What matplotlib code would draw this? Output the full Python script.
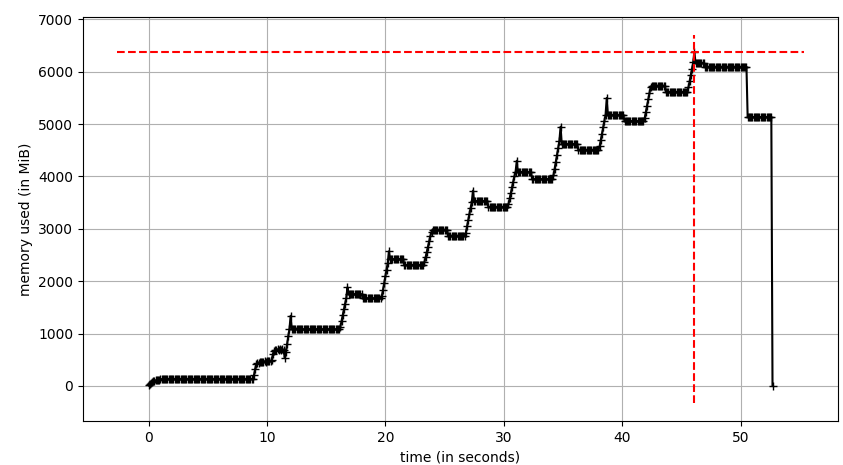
import numpy as np
import matplotlib
matplotlib.use("Agg")
import matplotlib.pyplot as plt

# sampling interval of the memory profiler (seconds)
sample_interval = 0.1

# memory samples (MiB), one per sample interval
mem_used = [
    # start-up
    10, 40, 65, 85, 95, 100, 105, 110, 115, 120, 125, 128, 130,
    # idle plateau
    135, 135, 135, 135, 135, 135, 135, 135, 135, 135, 135, 135, 135, 135, 135, 135, 135, 135, 135,
    135, 135, 135, 135, 135, 135, 135, 135, 135, 135, 135, 135, 135, 135, 135, 135, 135, 135, 135,
    135, 135, 135, 135, 135, 135, 135, 135, 135, 135, 135, 135, 135, 135, 135, 135, 135, 135, 135,
    135, 135, 135, 135, 135, 135, 135, 135, 135, 135, 135, 135, 135, 135, 135, 135, 135, 135, 135,
    200, 320, 420,
    440, 445, 450, 455, 460, 450, 470, 465, 480, 470, 485, 475, 490,
    610, 670, 690, 680, 700, 690, 710, 680, 700, 690,
    540,
    650, 800, 950, 1080,
    1340,
    1095, 1095, 1095, 1095, 1095, 1095, 1095, 1095,
    1080, 1080, 1080, 1080, 1080, 1080, 1080, 1080, 1080, 1080, 1080,
    1080, 1080, 1080, 1080, 1080, 1080, 1080, 1080, 1080, 1080, 1080,
    1080, 1080, 1080, 1080, 1080, 1080, 1080, 1080, 1080, 1080, 1080,
    1130, 1240, 1350, 1460, 1570, 1680,
    1880,
    1750, 1750, 1750, 1750, 1750, 1750, 1750, 1750, 1750, 1750, 1750, 1750,
    1670, 1670, 1670, 1670, 1670, 1670, 1670, 1670, 1670, 1670, 1670, 1670, 1670, 1670, 1670, 1670,
    1710, 1830, 1960, 2090, 2220, 2350,
    2570,
    2420, 2420, 2420, 2420, 2420, 2420, 2420, 2420, 2420, 2420, 2420, 2420,
    2310, 2310, 2310, 2310, 2310, 2310, 2310, 2310, 2310, 2310, 2310, 2310, 2310, 2310, 2310, 2310, 2310,
    2360, 2460, 2560, 2660, 2760, 2860, 2940,
    2985, 2985, 2985, 2985, 2985, 2985, 2985, 2985, 2985, 2985, 2985, 2985, 2985,
    2870, 2870, 2870, 2870, 2870, 2870, 2870, 2870, 2870, 2870, 2870, 2870, 2870, 2870, 2870,
    2930, 3050, 3170, 3290, 3400, 3510,
    3730,
    3530, 3530, 3530, 3530, 3530, 3530, 3530, 3530, 3530, 3530, 3530, 3530,
    3420, 3420, 3420, 3420, 3420, 3420, 3420, 3420, 3420, 3420, 3420, 3420, 3420, 3420, 3420, 3420, 3420,
    3470, 3580, 3690, 3800, 3900, 4000, 4090,
    4300,
    4085, 4085, 4085, 4085, 4085, 4085, 4085, 4085, 4085, 4085, 4085, 4085,
    3950, 3950, 3950, 3950, 3950, 3950, 3950, 3950, 3950, 3950, 3950, 3950, 3950, 3950, 3950, 3950, 3950, 3950,
    4020, 4150, 4280, 4410, 4540, 4680,
    4950,
    4620, 4620, 4620, 4620, 4620, 4620, 4620, 4620, 4620, 4620, 4620, 4620, 4620, 4620,
    4510, 4510, 4510, 4510, 4510, 4510, 4510, 4510, 4510, 4510, 4510, 4510, 4510, 4510, 4510, 4510, 4510, 4510,
    4580, 4700, 4820, 4940, 5060, 5180,
    5500,
    5175, 5175, 5175, 5175, 5175, 5175, 5175, 5175, 5175, 5175, 5175, 5175, 5175, 5175,
    5055, 5055, 5055, 5055, 5055, 5055, 5055, 5055, 5055, 5055, 5055, 5055, 5055, 5055, 5055, 5055, 5055,
    5110, 5230, 5350, 5470, 5590, 5700,
    5735, 5735, 5735, 5735, 5735, 5735, 5735, 5735, 5735, 5735, 5735, 5735,
    5615, 5615, 5615, 5615, 5615, 5615, 5615, 5615, 5615, 5615, 5615, 5615, 5615, 5615, 5615, 5615, 5615, 5615, 5615,
    5700, 5820, 5940, 6060, 6180,
    6375,
    6170, 6170, 6170, 6170, 6170, 6170, 6170, 6170,
    6095, 6095, 6095, 6095, 6095, 6095, 6095, 6095, 6095, 6095, 6095, 6095,
    6095, 6095, 6095, 6095, 6095, 6095, 6095, 6095, 6095, 6095, 6095, 6095,
    6095, 6095, 6095, 6095, 6095, 6095, 6095, 6095, 6095, 6095, 6095, 6095,
    5135, 5135, 5135, 5135, 5135, 5135, 5135, 5135, 5135, 5135, 5135,
    5135, 5135, 5135, 5135, 5135, 5135, 5135, 5135, 5135, 5135,
    0,
]

x_label = "time (in seconds)"
y_label = "memory used (in MiB)"

mem = np.array(mem_used, dtype=float)
t = np.arange(len(mem)) * sample_interval

fig = plt.figure(figsize=(8.43, 4.65), dpi=100)
ax = fig.add_axes([0.0985, 0.0946, 0.8956, 0.8688])

ax.plot(t, mem, "+-k")

xmin, xmax = ax.get_xlim()
ymin, ymax = ax.get_ylim()
imax = int(np.argmax(mem))
ax.hlines(mem[imax], xmin, xmax, colors="r", linestyles="dashed")
ax.vlines(t[imax], ymin, ymax, colors="r", linestyles="dashed")

ax.set_xlabel(x_label)
ax.set_ylabel(y_label)
ax.grid(True)

fig.savefig("out.png", dpi=100)
